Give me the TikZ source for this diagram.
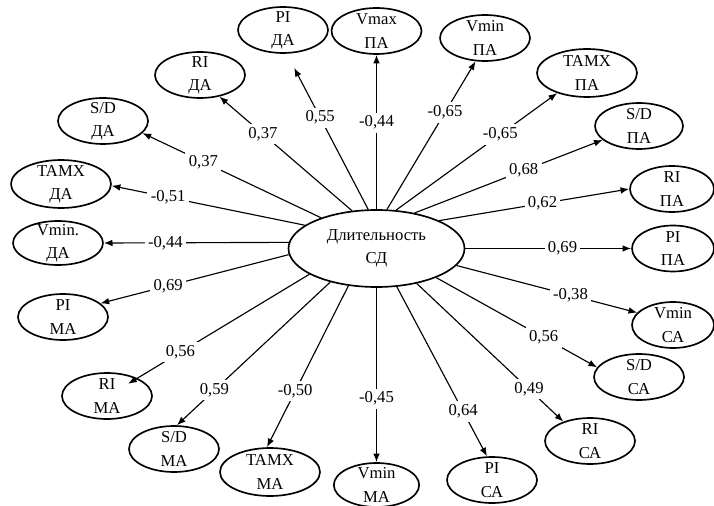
\documentclass[tikz,border=0pt]{standalone}
\usepackage{fontspec}
\setmainfont{Liberation Serif}
\usetikzlibrary{shapes.geometric,arrows.meta,calc}
\begin{document}
\begin{tikzpicture}[x=0.75pt,y=-0.75pt,
  every node/.style={font=\fontsize{12.5}{17.5}\selectfont},
  ell/.style={draw, ellipse, line width=1.25pt, inner xsep=0pt, inner ysep=-6pt,
    minimum width=67.5pt, minimum height=34.5pt, align=center},
  wide/.style={minimum width=75pt, minimum height=36pt},
  conn/.style={line width=0.85pt, -{Latex[length=6.5pt,width=5pt]}},
  lab/.style={fill=white, inner sep=2.5pt}]
\useasboundingbox (0,0) rectangle (714,506);
% centre
\node[ell, minimum width=132pt, minimum height=57.75pt] (c) at (376.5,248.5) {Длительность\\СД};
% outer ellipses
\node[ell] (pida) at (283,30) {PI\\ДА};
\node[ell] (rida) at (200,75) {RI\\ДА};
\node[ell] (sdda) at (103,121) {S/D\\ДА};
\node[ell,wide] (tamxda) at (61,184) {TAMX\\ДА};
\node[ell, minimum height=33pt] (vminda) at (58,243) {Vmin.\\ДА};
\node[ell] (pima) at (63,317) {PI\\МА};
\node[ell] (rima) at (107,396) {RI\\МА};
\node[ell] (sdma) at (174,449) {S/D\\МА};
\node[ell,wide] (tamxma) at (270,472) {TAMX\\МА};
\node[ell, minimum width=64pt, minimum height=33pt] (vminma) at (376.5,485) {Vmin\\МА};
\node[ell] (pica) at (492,480) {PI\\СА};
\node[ell] (rica) at (590,441) {RI\\СА};
\node[ell] (sdca) at (639,377) {S/D\\СА};
\node[ell, minimum width=61.5pt] (vminca) at (673,325) {Vmin\\СА};
\node[ell, minimum width=61.5pt] (pipa) at (673,248.5) {PI\\ПА};
\node[ell, minimum width=63pt] (ripa) at (672,189) {RI\\ПА};
\node[ell, minimum width=66pt] (sdpa) at (639,126) {S/D\\ПА};
\node[ell,wide] (tamxpa) at (587,73) {TAMX\\ПА};
\node[ell] (vminpa) at (485,38) {Vmin\\ПА};
\node[ell] (vmaxpa) at (376.5,31) {Vmax\\ПА};
% connectors
\draw[conn] (c.90) -- node[lab,pos=0.56]{-0,44} (vmaxpa.south);
\draw[conn] (c.75) -- node[lab,pos=0.655]{-0,65} (vminpa.248);
\draw[conn] (c.63) -- node[lab,pos=0.647]{-0,65} (tamxpa.214);
\draw[conn] (c.43) -- node[lab,pos=0.58]{0,68} (sdpa.201);
\draw[conn] (c.24) -- node[lab,pos=0.544]{0,62} (ripa.180);
\draw[conn] (c.0) -- node[lab,pos=0.586]{0,69} (pipa.180);
\draw[conn] (c.-12) -- node[lab,pos=0.631]{-0,38} (vminca.161);
\draw[conn] (c.-26) -- node[lab,pos=0.668]{0,56} (sdca.167);
\draw[conn] (c.-41) -- node[lab,pos=0.766]{0,49} (rica.144);
\draw[conn] (c.-62) -- node[lab,pos=0.736]{0,64} (pica.102);
\draw[conn] (c.-90) -- node[lab,pos=0.636]{-0,45} (vminma.north);
\draw[conn] (c.-127) -- node[lab,pos=0.653]{-0,50} (tamxma.97);
\draw[conn] (c.-144) -- node[lab,pos=0.756]{0,59} (sdma.83);
\draw[conn] (c.-159) -- node[lab,pos=0.712]{0,56} ($(rima.center)!0.69!(rima.30)$);
\draw[conn] (c.184) -- node[lab,pos=0.641]{0,69} (pima.20);
\draw[conn] (c.176) -- node[lab,pos=0.667]{-0,44} (vminda.0);
\draw[conn] (c.162) -- node[lab,pos=0.708]{-0,51} (tamxda.-2);
\draw[conn] (c.151) -- node[lab,pos=0.659]{0,37} (sdda.-17);
\draw[conn] (c.123) -- node[lab,pos=0.672]{0,37} (rida.-48);
\draw[conn, shorten >=12pt] (c.102) -- node[lab,pos=0.589]{0,55} (pida.-81);
\end{tikzpicture}
\end{document}
